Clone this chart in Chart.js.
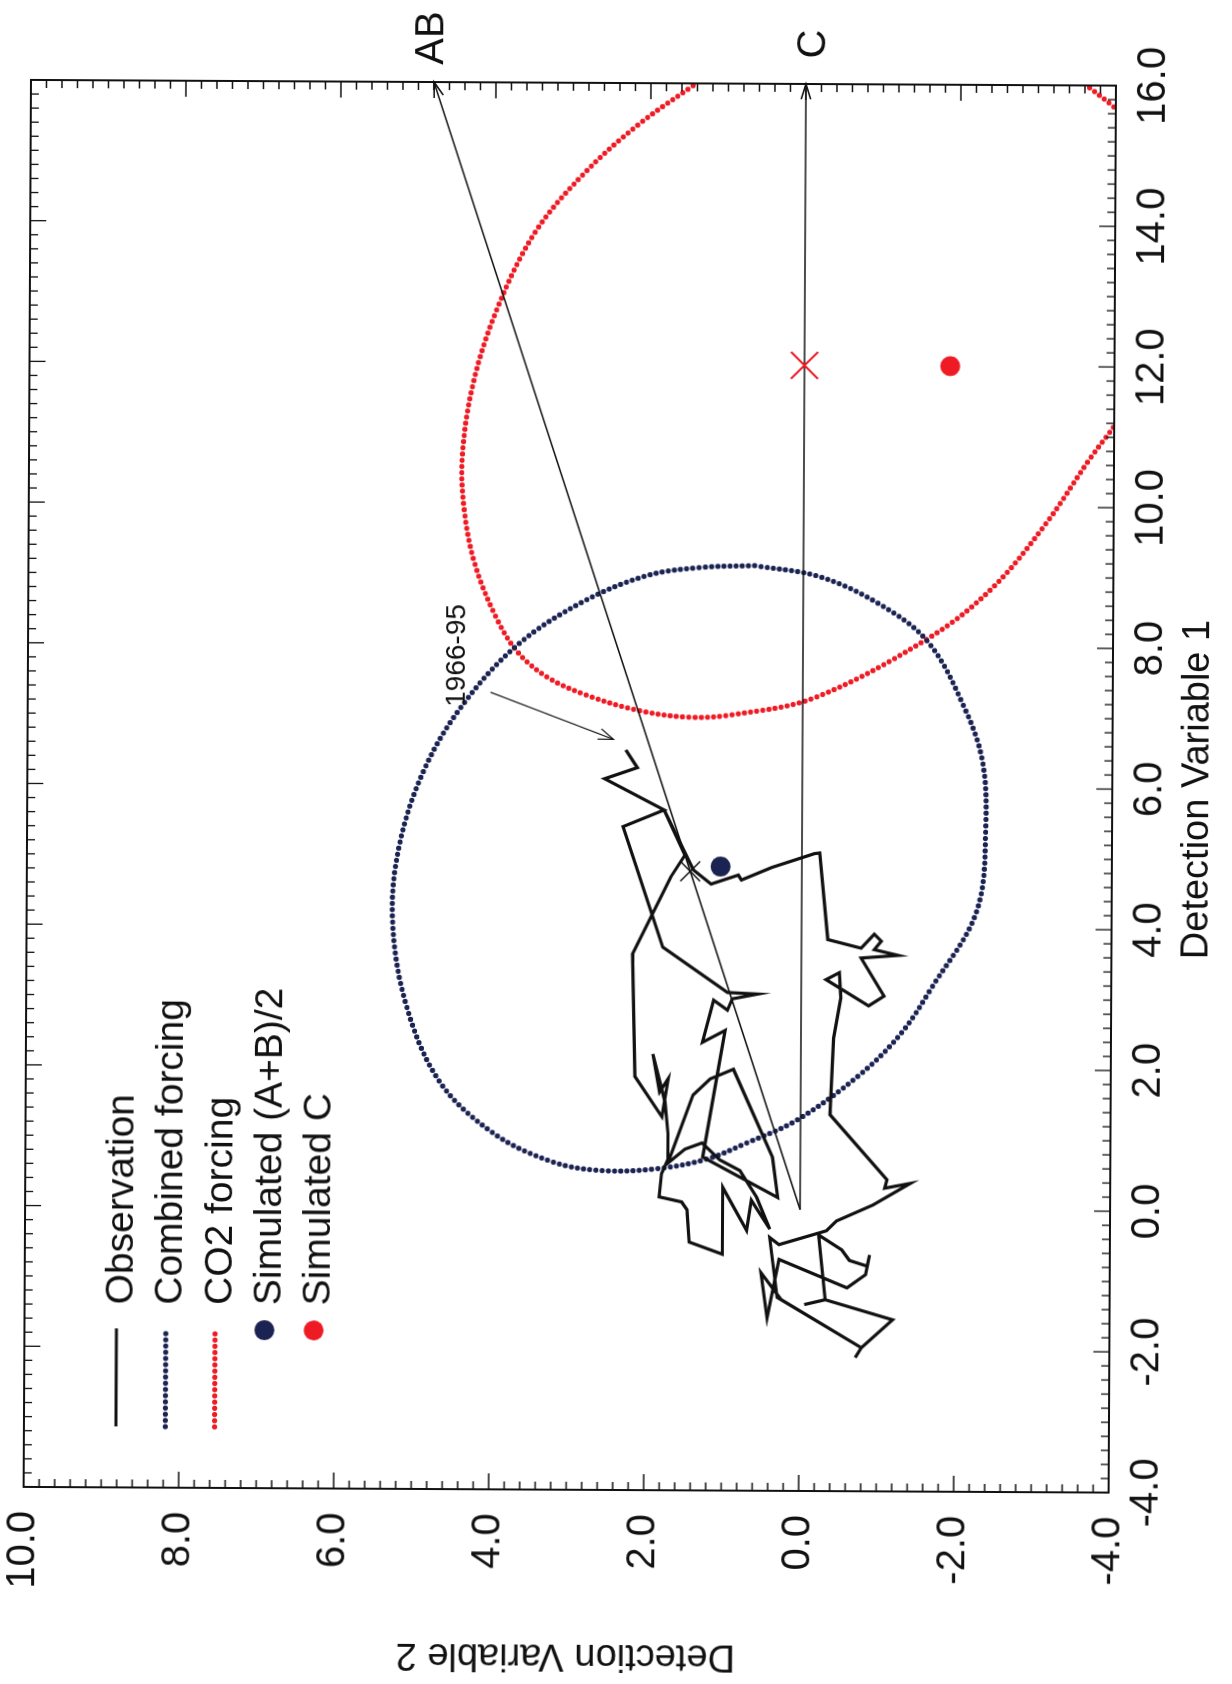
<!DOCTYPE html>
<html>
<head>
<meta charset="utf-8">
<script src="https://cdn.jsdelivr.net/npm/chart.js@4.4.1/dist/chart.umd.min.js"></script>
<style>
  html, body { margin: 0; padding: 0; background: #fff; }
  body { width: 1232px; height: 1684px; overflow: hidden; position: relative; }
  /* the scan is a touch crooked */
  #page { position: absolute; left: 0; top: 0; width: 1232px; height: 1684px; transform: rotate(0.3deg); }
  /* the figure sits sideways on the page, so the canvas is turned a quarter left */
  #wrap { position: absolute; left: 0; top: 0; width: 1684px; height: 1232px;
          transform-origin: 0 0; transform: translate(0px, 1684px) rotate(-90deg); }
</style>
</head>
<body>
<div id="page"><div id="wrap"><canvas id="detection" width="1684" height="1232"></canvas></div></div>
<script>
// values
var xTicks = [-4, -2, 0, 2, 4, 6, 8, 10, 12, 14, 16];
var yTicks = [-4, -2, 0, 2, 4, 6, 8, 10];

var legendLabels = ['Observation', 'Combined forcing', 'CO2 forcing', 'Simulated (A+B)/2', 'Simulated C'];

// observed trajectory, ends at the 1966-95 window
var observation = [
  [-2.10, -0.72], [-1.96, -0.80], [-1.56, -1.20], [-1.28, -0.33], [-1.35, -0.06], [-1.28, -0.33],
  [-0.36, -0.24], [-0.57, -0.54], [-0.72, -0.64], [-0.80, -0.87], [-0.64, -0.90], [-0.92, -0.85],
  [-1.11, -0.61], [-0.71, 0.27], [-1.54, 0.42], [-0.90, 0.50], [-1.28, 0.24], [-1.96, -0.80],
  [-1.25, 0.29], [-0.40, 0.39], [-0.50, 0.27], [-0.30, -0.34], [-0.16, -0.47], [0.07, -0.94],
  [0.38, -1.42], [0.31, -1.09], [0.43, -1.12], [1.35, -0.38], [2.44, -0.42], [3.01, -0.51],
  [3.37, -0.49], [3.27, -0.32], [2.90, -0.87], [3.04, -1.07], [3.58, -0.77], [3.62, -1.25],
  [3.70, -0.94], [3.82, -1.03], [3.92, -0.94], [3.72, -0.77], [3.84, -0.34], [5.07, -0.23],
  [5.06, -0.16], [4.86, 0.39], [4.68, 0.78], [4.75, 0.82], [4.62, 1.17], [4.82, 1.40],
  [5.67, 1.78], [5.03, 1.51], [4.72, 1.69], [3.62, 2.18], [1.88, 2.14], [1.31, 1.79],
  [1.85, 1.71], [1.66, 1.82], [2.20, 1.91], [1.52, 1.75], [1.07, 1.71], [0.70, 1.71],
  [0.50, 1.79], [0.17, 1.82], [0.10, 1.53], [-0.01, 1.46], [-0.47, 1.43], [-0.64, 1.00],
  [0.31, 1.00], [-0.30, 0.69], [0.13, 0.63], [-0.28, 0.39], [0.17, 0.56], [0.55, 0.78],
  [0.70, 1.04], [0.94, 1.27], [0.85, 1.49], [0.65, 1.71], [1.62, 1.39], [1.85, 1.17],
  [1.99, 0.87], [0.74, 0.36], [0.17, 0.29], [0.74, 1.26], [2.54, 0.98], [2.37, 1.27],
  [2.97, 1.13], [2.83, 0.95], [2.99, 0.89], [3.06, 0.56], [3.08, 0.95], [3.72, 1.79],
  [5.43, 2.31], [5.67, 1.78], [6.11, 2.55], [6.27, 2.13], [6.52, 2.28]
];

// confidence ellipse, combined forcing
var combinedEllipse = [
  [9.15, 0.63], [9.00, -0.20], [8.62, -0.97], [8.08, -1.61], [7.16, -2.08], [6.40, -2.32],
  [5.49, -2.37], [4.26, -2.26], [3.16, -1.68], [2.51, -1.29], [1.93, -0.77], [1.27, 0.05],
  [0.94, 0.70], [0.71, 1.21], [0.57, 1.85], [0.54, 2.57], [0.66, 3.20], [1.06, 3.96],
  [1.79, 4.66], [2.89, 5.10], [4.11, 5.28], [5.18, 5.19], [6.25, 4.87], [7.16, 4.38],
  [8.00, 3.69], [8.62, 2.85], [9.00, 2.02], [9.12, 1.32], [9.15, 0.63]
];

// confidence ellipse, CO2 forcing (runs past the frame at the top and right)
var co2Ellipse = [
  [16.02, 1.39], [15.41, 2.16], [14.72, 2.85], [13.88, 3.48], [12.81, 3.96], [11.74, 4.27],
  [10.68, 4.41], [9.91, 4.38], [9.15, 4.24], [8.39, 3.96], [7.90, 3.68], [7.55, 3.30],
  [7.30, 2.80], [7.08, 2.11], [6.99, 1.46], [7.03, 0.90], [7.28, -0.16], [8.14, -1.63],
  [8.84, -2.43], [9.76, -3.12], [10.68, -3.68], [11.24, -4.05], [12.2, -4.6], [13.4, -4.9],
  [14.6, -4.7], [15.3, -4.35], [15.67, -4.0], [16.0, -3.62], [16.6, -2.9], [17.0, -1.7],
  [17.2, -0.4], [17.0, 0.6], [16.5, 1.1], [16.02, 1.39]
];

var simulatedAB = [[4.87, 1.05]];
var simulatedC = [[12.0, -1.88]];
var projectedAB = [[4.8, 1.44]];
var projectedC = [[12.0, 0.0]];
var arrowAB = [[0, 0], [16, 4.8]];
var arrowC = [[0, 0], [16, 0]];
var arrow1966 = [[7.33, 4.03], [6.67, 2.44]];
var label1966 = [7.85, 4.46];

var NAVY = '#1b2352';
var RED = '#ee1b24';
var INK = '#111111';
var FONT = "'Liberation Sans', Arial, Helvetica, sans-serif";

function pts(a) {
  return a.map(function (p) { return {x: p[0], y: p[1]}; });
}

function arrowHead(ctx, x0, y0, x1, y1, len, spread) {
  var a = Math.atan2(y1 - y0, x1 - x0);
  ctx.beginPath();
  ctx.moveTo(x1 - len * Math.cos(a - spread), y1 - len * Math.sin(a - spread));
  ctx.lineTo(x1, y1);
  ctx.lineTo(x1 - len * Math.cos(a + spread), y1 - len * Math.sin(a + spread));
  ctx.stroke();
}

var decorations = {
  id: 'decorations',
  afterDatasetsDraw: function (chart) {
    var ctx = chart.ctx, area = chart.chartArea;
    var xs = chart.scales.x, ys = chart.scales.y;
    ctx.save();

    // frame with inward ticks on all four sides
    ctx.strokeStyle = INK;
    ctx.lineWidth = 2;
    ctx.strokeRect(area.left, area.top, area.right - area.left, area.bottom - area.top);
    ctx.lineWidth = 1.3;
    ctx.beginPath();
    for (var i = 0; i <= 100; i++) {
      var px = xs.getPixelForValue(-4 + i * 0.2);
      var len = (i % 10 === 0) ? 16 : 8;
      ctx.moveTo(px, area.bottom); ctx.lineTo(px, area.bottom - len);
      ctx.moveTo(px, area.top); ctx.lineTo(px, area.top + len);
    }
    for (var j = 0; j <= 70; j++) {
      var py = ys.getPixelForValue(-4 + j * 0.2);
      var l2 = (j % 10 === 0) ? 16 : 8;
      ctx.moveTo(area.left, py); ctx.lineTo(area.left + l2, py);
      ctx.moveTo(area.right, py); ctx.lineTo(area.right - l2, py);
    }
    ctx.stroke();

    // arrow heads
    ctx.lineWidth = 1.6;
    var o = [xs.getPixelForValue(0), ys.getPixelForValue(0)];
    var ab = [xs.getPixelForValue(arrowAB[1][0]), ys.getPixelForValue(arrowAB[1][1])];
    var c = [xs.getPixelForValue(arrowC[1][0]), ys.getPixelForValue(arrowC[1][1])];
    arrowHead(ctx, o[0], o[1], ab[0], ab[1], 16, 0.3);
    arrowHead(ctx, o[0], o[1], c[0], c[1], 16, 0.3);
    ctx.lineWidth = 1.2;
    arrowHead(ctx, xs.getPixelForValue(arrow1966[0][0]), ys.getPixelForValue(arrow1966[0][1]),
      xs.getPixelForValue(arrow1966[1][0]), ys.getPixelForValue(arrow1966[1][1]), 16, 0.35);

    // text labels
    ctx.fillStyle = INK;
    ctx.textAlign = 'center';
    ctx.textBaseline = 'middle';
    ctx.font = '40px ' + FONT;
    ctx.fillText('AB', ab[0] + 44, ab[1] - 2);
    ctx.fillText('C', c[0] + 40, c[1] + 8);
    ctx.font = '28px ' + FONT;
    ctx.fillText('1966-95', xs.getPixelForValue(label1966[0]), ys.getPixelForValue(label1966[1]));

    // legend, top left inside the frame
    ctx.textAlign = 'left';
    ctx.textBaseline = 'alphabetic';
    ctx.font = '39px ' + FONT;
    for (var k = 0; k < legendLabels.length; k++) {
      var base = 135 + k * 49.3;
      var mid = base - 16;
      ctx.fillStyle = INK;
      ctx.fillText(legendLabels[k], 377, base);
      if (k < 3) {
        ctx.beginPath();
        ctx.moveTo(255, mid); ctx.lineTo(353, mid);
        if (k === 0) {
          ctx.setLineDash([]); ctx.lineWidth = 3; ctx.strokeStyle = INK; ctx.lineCap = 'butt';
        } else {
          ctx.setLineDash([0, 6.2]); ctx.lineWidth = 5.2; ctx.lineCap = 'round';
          ctx.strokeStyle = k === 1 ? NAVY : RED;
        }
        ctx.stroke();
        ctx.setLineDash([]);
      } else {
        ctx.beginPath();
        ctx.arc(352, mid, 10, 0, Math.PI * 2);
        ctx.fillStyle = k === 3 ? NAVY : RED;
        ctx.fill();
      }
    }
    ctx.restore();
  }
};

var dotted = {showLine: true, tension: 0.35, pointRadius: 0, borderWidth: 5.2,
  borderDash: [0, 6.2], borderCapStyle: 'round', fill: false};

var ctx = document.getElementById('detection');
var chart = new Chart(ctx, {
  type: 'scatter',
  data: {
    datasets: [
      Object.assign({label: 'CO2 forcing', data: pts(co2Ellipse), borderColor: RED, order: 9}, dotted),
      Object.assign({label: 'Combined forcing', data: pts(combinedEllipse), borderColor: NAVY, order: 8}, dotted),
      {label: 'AB', data: pts(arrowAB), showLine: true, borderColor: INK, borderWidth: 1.6, pointRadius: 0, order: 7},
      {label: 'C', data: pts(arrowC), showLine: true, borderColor: INK, borderWidth: 1.6, pointRadius: 0, order: 6},
      {label: '1966-95', data: pts(arrow1966), showLine: true, borderColor: INK, borderWidth: 1.2, pointRadius: 0, order: 5},
      {label: 'Observation', data: pts(observation), showLine: true, borderColor: INK, borderWidth: 3.2,
        borderJoinStyle: 'miter', tension: 0, pointRadius: 0, order: 4},
      {label: 'projection AB', data: pts(projectedAB), pointStyle: 'crossRot', pointRadius: 14,
        borderColor: INK, borderWidth: 1.5, order: 3},
      {label: 'projection C', data: pts(projectedC), pointStyle: 'crossRot', pointRadius: 19,
        borderColor: RED, borderWidth: 2, order: 2},
      {label: 'Simulated (A+B)/2', data: pts(simulatedAB), pointStyle: 'circle', pointRadius: 10,
        backgroundColor: NAVY, borderColor: NAVY, borderWidth: 0, order: 1},
      {label: 'Simulated C', data: pts(simulatedC), pointStyle: 'circle', pointRadius: 10,
        backgroundColor: RED, borderColor: RED, borderWidth: 0, order: 0}
    ]
  },
  options: {
    responsive: false,
    animation: false,
    devicePixelRatio: 1,
    events: [],
    layout: {padding: {left: 0, top: 27, right: 83, bottom: 0}},
    plugins: {legend: {display: false}, tooltip: {enabled: false}},
    scales: {
      x: {
        type: 'linear', position: 'bottom', min: -4, max: 16,
        grid: {display: false, drawTicks: false}, border: {display: false},
        afterBuildTicks: function (s) { s.ticks = xTicks.map(function (v) { return {value: v}; }); },
        afterFit: function (s) { s.height = 120; s.paddingLeft = 0; s.paddingRight = 0; },
        ticks: {color: INK, font: {family: FONT, size: 40}, padding: 14, maxRotation: 0, autoSkip: false,
          callback: function (v) { return Number(v).toFixed(1); }},
        title: {display: true, text: 'Detection Variable 1', color: INK,
          font: {family: FONT, size: 38}, padding: {top: 0, bottom: 12}}
      },
      y: {
        type: 'linear', position: 'left', min: -4, max: 10,
        grid: {display: false, drawTicks: false}, border: {display: false},
        afterBuildTicks: function (s) { s.ticks = yTicks.map(function (v) { return {value: v}; }); },
        afterFit: function (s) { s.width = 194; s.paddingTop = 0; s.paddingBottom = 0; },
        ticks: {color: INK, font: {family: FONT, size: 40}, padding: 24, autoSkip: false,
          callback: function (v) { return Number(v).toFixed(1); }},
        title: {display: true, text: 'Detection Variable 2', color: INK,
          font: {family: FONT, size: 38}, padding: {top: 6, bottom: 0}}
      }
    }
  },
  plugins: [decorations]
});
</script>
</body>
</html>
